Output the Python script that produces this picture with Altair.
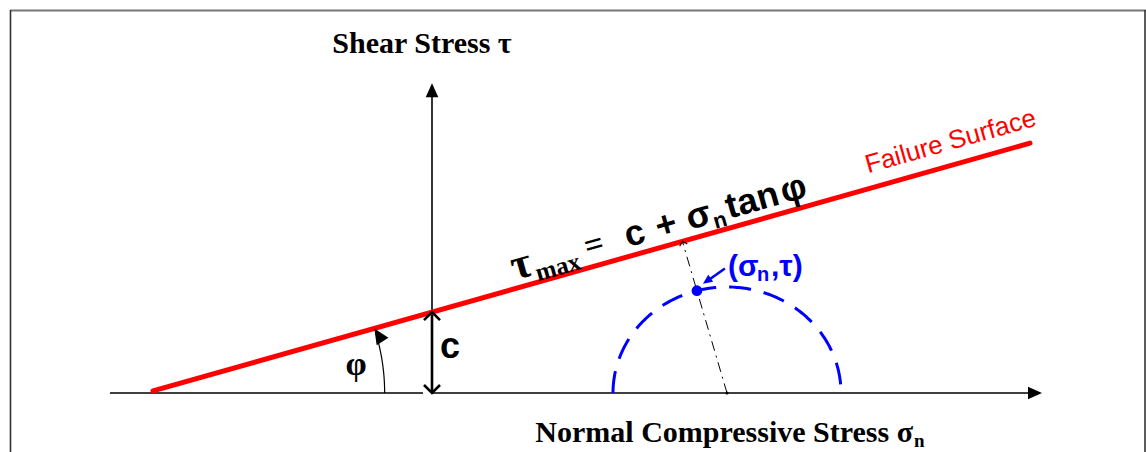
import math
import altair as alt
import numpy as np
import pandas as pd

W, H = 1146, 452

# Mohr-Coulomb failure envelope and one Mohr circle, in stress units
cohesion = 8.7
phi_deg = 16.9
envelope_sigma = [-27.9, 59.8]
circle_center = 29.5
circle_radius = 11.4
point_angle_deg = 105.3          # where (sigma_n, tau) sits on the circle
phi_arc_radius = 23.9

# axis extents (arrow tips)
sigma_axis = [-32.2, 61.0]
sigma_axis_gap = [-0.9, 0.0]
tau_axis = [0.0, 33.3]

x_domain = [-43.2, 71.4]
y_domain = [-6.344, 42.258]

KX = W / (x_domain[1] - x_domain[0])   # px per sigma unit
KY = H / (y_domain[1] - y_domain[0])   # px per tau unit
tan_phi = math.tan(math.radians(phi_deg))
sigma0 = -cohesion / tan_phi


def envelope(s):
    return cohesion + s * tan_phi


def heading(ds, dt):
    """Clockwise symbol rotation that points an 'up' glyph along (ds, dt)."""
    sx, sy = ds * KX, -dt * KY
    return math.degrees(math.atan2(sx, -sy)) % 360


line_angle = math.degrees(math.atan2(-tan_phi * KY, KX)) % 360

xs = alt.Scale(domain=x_domain, nice=False, zero=False)
ys = alt.Scale(domain=y_domain, nice=False, zero=False)


def X(f="s"):
    return alt.X(f"{f}:Q", scale=xs, axis=None)


def Y(f="t"):
    return alt.Y(f"{f}:Q", scale=ys, axis=None)


def segments(rows):
    return pd.DataFrame(rows, columns=["s", "t", "s2", "t2"])


def seg_layer(rows, **mark):
    return alt.Chart(segments(rows)).mark_rule(**mark).encode(
        x=X("s"), y=Y("t"), x2="s2:Q", y2="t2:Q"
    )


# ---- axes ----
ax_x_end = sigma_axis[1] - 9 / KX
ax_y_end = tau_axis[1] - 9 / KY
axes = seg_layer(
    [
        [sigma_axis[0], 0, sigma_axis_gap[0], 0],
        [sigma_axis_gap[1], 0, ax_x_end, 0],
        [0, 0, 0, ax_y_end],
    ],
    color="black", strokeWidth=1.6,
)

# ---- failure envelope ----
env = seg_layer(
    [[envelope_sigma[0], envelope(envelope_sigma[0]),
      envelope_sigma[1], envelope(envelope_sigma[1])]],
    color="#ff0000", strokeWidth=5, strokeCap="round",
)

# ---- cohesion arrow ----
c_arrow = seg_layer([[0, 0, 0, cohesion]], color="black", strokeWidth=2.6)

# ---- friction angle arc ----
arc_theta = np.linspace(0, math.radians(phi_deg) * 0.93, 40)
arc_df = pd.DataFrame({
    "i": np.arange(len(arc_theta)),
    "s": sigma0 + phi_arc_radius * np.cos(arc_theta),
    "t": phi_arc_radius * np.sin(arc_theta),
})
arc = alt.Chart(arc_df).mark_line(color="black", strokeWidth=1.2).encode(
    x=X(), y=Y(), order="i:Q"
)
phi_rad = math.radians(phi_deg)
arc_tip = (sigma0 + phi_arc_radius * math.cos(phi_rad), phi_arc_radius * math.sin(phi_rad))
arc_tip_angle = (heading(-math.sin(phi_rad), math.cos(phi_rad)) - 14) % 360

# ---- Mohr circle (upper half) ----
circ_theta = np.linspace(math.pi, 0, 181)
circ_df = pd.DataFrame({
    "i": np.arange(len(circ_theta)),
    "s": circle_center + circle_radius * np.cos(circ_theta),
    "t": circle_radius * np.sin(circ_theta),
})
circle = alt.Chart(circ_df).mark_line(
    color="#0000ff", strokeWidth=3, strokeDash=[22, 13]
).encode(x=X(), y=Y(), order="i:Q")

# stress point on the circle and the radius extended to the envelope
pa = math.radians(point_angle_deg)
pt_s = circle_center + circle_radius * math.cos(pa)
pt_t = circle_radius * math.sin(pa)
ux, uy = math.cos(pa), math.sin(pa)
t_hit = (cohesion + circle_center * tan_phi) / (uy - ux * tan_phi)
hit_s, hit_t = circle_center + t_hit * ux, t_hit * uy
radius_line = seg_layer(
    [[circle_center, 0, hit_s, hit_t]],
    color="black", strokeWidth=1, strokeDash=[10, 5, 2, 5],
)
center_dot = alt.Chart(pd.DataFrame({"s": [circle_center], "t": [0]})).mark_point(
    filled=True, color="black", size=10, opacity=1
).encode(x=X(), y=Y())
stress_pt = alt.Chart(pd.DataFrame({"s": [pt_s], "t": [pt_t]})).mark_point(
    filled=True, color="#0000ff", size=115, opacity=1
).encode(x=X(), y=Y())

# pointer from the (sigma_n, tau) label to the point
ptr_tip = (pt_s + 0.6, pt_t + 0.75)
ptr_tail = (pt_s + 2.8, pt_t + 2.4)
pointer = seg_layer([[ptr_tail[0], ptr_tail[1], ptr_tip[0] + 0.5, ptr_tip[1] + 0.35]],
                    color="#0000ff", strokeWidth=2.5)
ptr_angle = heading(ptr_tip[0] - ptr_tail[0], ptr_tip[1] - ptr_tail[1])

# ---- arrow heads ----
TRI = "M0,0L0.9,2L-0.9,2Z"
CHEV = "M-1,1L0,0L1,1"

filled_heads = pd.DataFrame([
    {"s": sigma_axis[1], "t": 0, "a": 90, "sz": 196, "col": "black"},
    {"s": 0, "t": tau_axis[1], "a": 0, "sz": 196, "col": "black"},
    {"s": ptr_tip[0], "t": ptr_tip[1], "a": ptr_angle, "sz": 90, "col": "#0000ff"},
    {"s": arc_tip[0], "t": arc_tip[1], "a": arc_tip_angle, "sz": 240, "col": "black"},
])
heads = alt.Chart(filled_heads).mark_point(filled=True, shape=TRI, opacity=1, strokeWidth=0).encode(
    x=X(), y=Y(),
    angle=alt.Angle("a:Q", scale=None),
    size=alt.Size("sz:Q", scale=None),
    color=alt.Color("col:N", scale=None),
)

open_heads = pd.DataFrame([
    {"s": 0, "t": cohesion, "a": 0, "sz": 256, "w": 2.6},
    {"s": 0, "t": 0, "a": 180, "sz": 256, "w": 2.6},
    {"s": hit_s, "t": hit_t, "a": heading(ux, uy), "sz": 64, "w": 1.2},
])
chevrons = alt.Chart(open_heads).mark_point(filled=False, shape=CHEV, opacity=1, color="black").encode(
    x=X(), y=Y(),
    angle=alt.Angle("a:Q", scale=None),
    size=alt.Size("sz:Q", scale=None),
    strokeWidth=alt.StrokeWidth("w:Q", scale=None),
)

# ---- text ----
SERIF = "Liberation Serif"
SANS = "Liberation Sans"


def text_layer(s, t, txt, font, size, weight="bold", color="black", angle=0,
               dx=0, dy=0, align="left", baseline="alphabetic"):
    df = pd.DataFrame({"s": [s], "t": [t], "txt": [txt]})
    return alt.Chart(df).mark_text(
        font=font, fontSize=size, fontWeight=weight, color=color, angle=angle,
        dx=dx, dy=dy, align=align, baseline=baseline,
    ).encode(x=X(), y=Y(), text="txt:N")


labels = [
    text_layer(-1.0, 36.56, "Shear Stress τ", SERIF, 30, align="center"),
    text_layer(48.1, -5.27, "Normal Compressive Stress σ", SERIF, 30, align="right"),
    text_layer(48.1, -5.8, "n", SERIF, 19, dx=1),
    text_layer(1.8, 3.76, "c", SANS, 36, align="center"),
    text_layer(-7.6, 1.94, "φ", SERIF, 34, align="center"),
    text_layer(29.6, 12.57, "(σ", SANS, 30, color="#0000ff"),
    text_layer(32.5, 12.0, "n", SANS, 20, color="#0000ff"),
    text_layer(33.9, 12.57, ",τ)", SANS, 30, color="#0000ff"),
]

# equation written along the envelope
eq_anchor = 8.5
eq_pieces = [
    ("τ", SERIF, 44, 0, -8),
    ("max", SERIF, 25, 22, -1),
    ("=", SERIF, 34, 76, -10),
    ("c", SANS, 36, 118, -9),
    ("+", SANS, 36, 150, -9),
    ("σ", SANS, 36, 182, -9),
    ("n", SANS, 22, 207, -3),
    ("tan", SANS, 36, 223, -9),
    ("φ", SANS, 36, 280, -9),
]
for txt, font, size, dx, dy in eq_pieces:
    labels.append(text_layer(eq_anchor, envelope(eq_anchor), txt, font, size,
                             angle=line_angle, dx=dx, dy=dy))

fs_anchor = 44.0
labels.append(text_layer(fs_anchor, envelope(fs_anchor), "Failure Surface", SANS, 26,
                         weight="normal", color="#ff0000", angle=line_angle, dy=-15))

# ---- page frame ----
frame = alt.layer(
    alt.Chart(pd.DataFrame({"k": [0]})).mark_rule(color="#777777", strokeWidth=2).encode(
        x=alt.value(10), x2=alt.value(W), y=alt.value(10.5)),
    alt.Chart(pd.DataFrame({"k": [0]})).mark_rule(color="#333333", strokeWidth=1.6).encode(
        x=alt.value(10.5), y=alt.value(10), y2=alt.value(H)),
    alt.Chart(pd.DataFrame({"k": [0]})).mark_rule(color="#333333", strokeWidth=1.6).encode(
        x=alt.value(1145), y=alt.value(10), y2=alt.value(H)),
)

chart = alt.layer(
    frame, axes, c_arrow, arc, circle, radius_line, env, pointer,
    center_dot, stress_pt, heads, chevrons, *labels,
).properties(
    width=W, height=H, padding=0, background="white",
    autosize=alt.AutoSizeParams(type="none"),
).configure_view(stroke=None)

chart.save("out.html", embed_options={"renderer": "svg", "actions": False})
